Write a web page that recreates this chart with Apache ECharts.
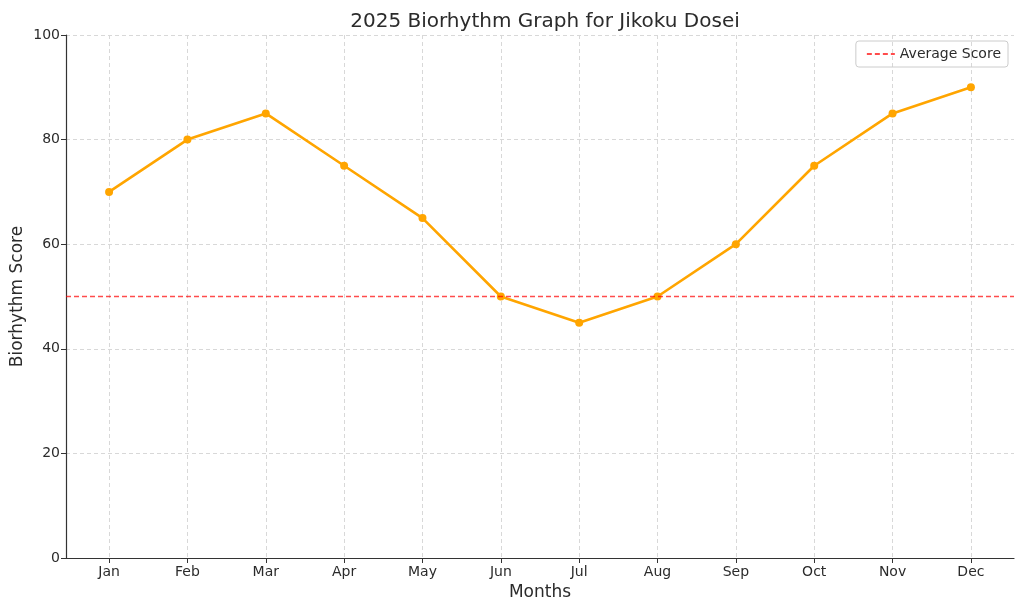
<!DOCTYPE html>
<html><head><meta charset="utf-8">
<script src="https://cdn.jsdelivr.net/npm/echarts@6/dist/echarts.min.js"></script>
<style>html,body{margin:0;padding:0;background:#fff}#c{width:1024px;height:611px}</style>
</head><body><div id="c"></div>
<script>
const months = ['Jan','Feb','Mar','Apr','May','Jun','Jul','Aug','Sep','Oct','Nov','Dec'];
const scores = [70,80,85,75,65,50,45,50,60,75,85,90];
const averageScore = 50;
const yTicks = [0,20,40,60,80,100];

const font = 'DejaVu Sans';
const txt = '#2b2b2b';
const idx = months.map((m,i)=>i);
const chart = echarts.init(document.getElementById('c'));
chart.setOption({
  animation:false,
  textStyle:{fontFamily:font},
  title:{text:'2025 Biorhythm Graph for Jikoku Dosei',left:540,top:7,textAlign:'center',
    textStyle:{fontFamily:font,fontSize:20,fontWeight:'normal',color:txt}},
  grid:{left:66,right:10,top:35,bottom:53,containLabel:false,outerBoundsMode:'none'},
  legend:{right:16,top:41,itemWidth:28,itemHeight:10,itemGap:6,
    padding:[6,7,6,10],borderColor:'#cccccc',borderWidth:1,borderRadius:3,
    textStyle:{fontFamily:font,fontSize:14,color:txt,lineHeight:14},
    data:[{name:'Average Score',itemStyle:{opacity:0}}]},
  xAxis:{type:'value',min:-0.55,max:11.55,
    name:'Months',nameLocation:'middle',nameGap:26,nameMoveOverlap:false,
    nameTextStyle:{fontFamily:font,fontSize:17,color:txt},
    axisLine:{show:true,onZero:false,lineStyle:{color:'#333',width:1.2}},
    axisTick:{show:true,length:5,customValues:idx,lineStyle:{color:'#333'}},
    axisLabel:{customValues:idx,margin:7,fontSize:14,color:txt,fontFamily:font,
      formatter:v=>months[Math.round(v)]},
    splitLine:{show:true,lineStyle:{color:'#d8d8d8',type:[4,3],width:1}}},
  yAxis:{type:'value',min:yTicks[0],max:yTicks[yTicks.length-1],interval:yTicks[1]-yTicks[0],
    name:'Biorhythm Score',nameLocation:'middle',nameGap:40,nameMoveOverlap:false,
    nameTextStyle:{fontFamily:font,fontSize:17,color:txt},
    axisLine:{show:true,onZero:false,lineStyle:{color:'#333',width:1.2}},
    axisTick:{show:true,length:5,lineStyle:{color:'#333'}},
    axisLabel:{margin:6,fontSize:14,color:txt,fontFamily:font},
    splitLine:{show:true,lineStyle:{color:'#d8d8d8',type:[4,3],width:1}}},
  series:[
    {name:'Biorhythm',type:'line',data:scores.map((s,i)=>[i,s]),
     symbol:'circle',symbolSize:8,showSymbol:true,
     lineStyle:{color:'#FFA500',width:2.6},itemStyle:{color:'#FFA500'},z:3},
    {name:'Average Score',type:'line',data:[[-0.55,averageScore],[11.55,averageScore]],
     symbol:'none',lineStyle:{color:'rgba(255,0,0,0.7)',width:1.3,type:[5,3]},
     itemStyle:{color:'rgba(255,0,0,0.7)'},z:4}
  ]
});
</script></body></html>
